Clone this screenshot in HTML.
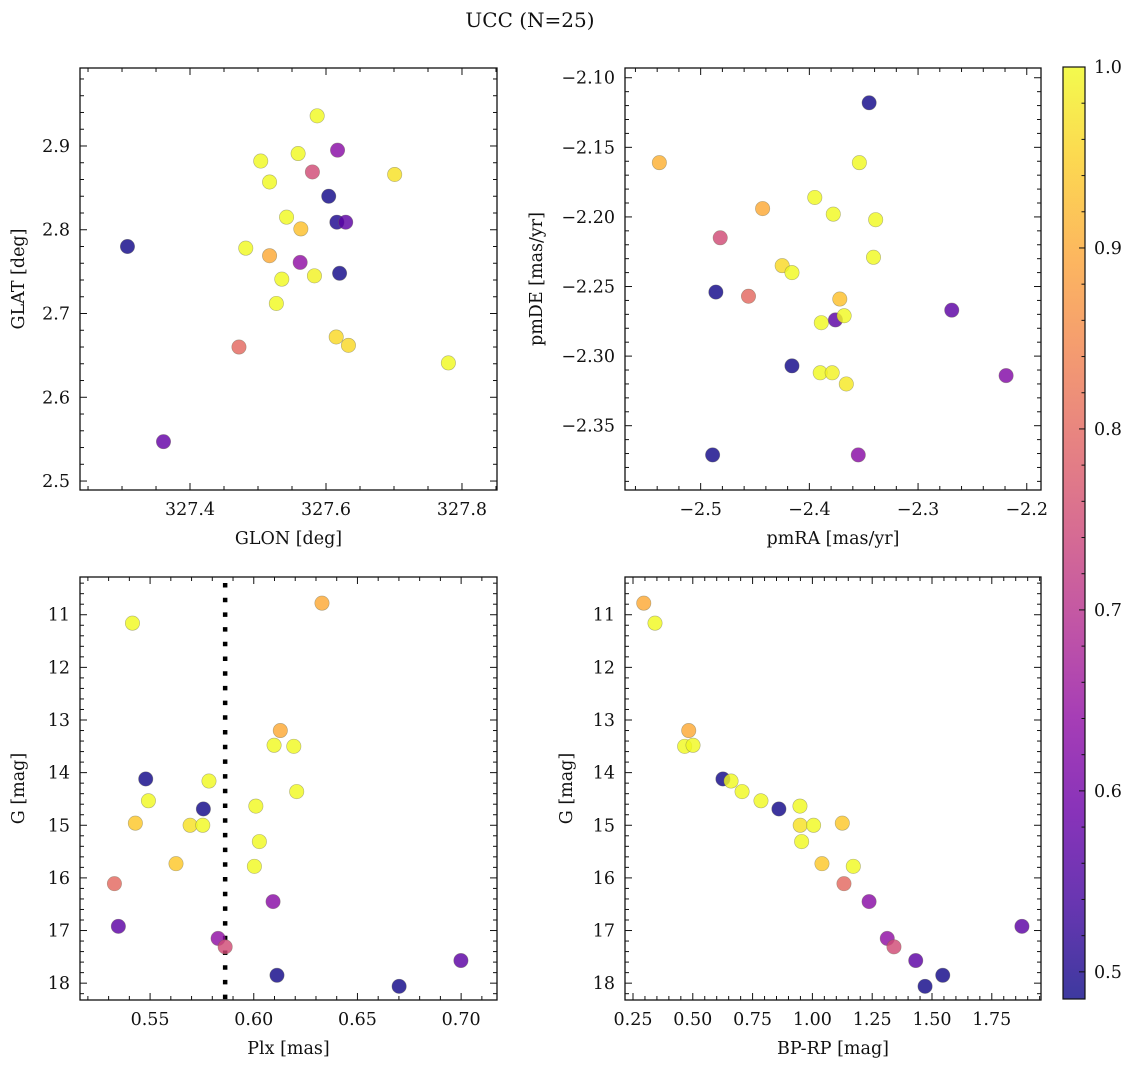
<!DOCTYPE html>
<html><head><meta charset="utf-8"><style>
html,body{margin:0;padding:0;background:#fff;}
svg text{font-family:"DejaVu Serif","Liberation Serif",serif;fill:#111;}
</style></head><body>
<svg id="fig" width="1136" height="1067" viewBox="0 0 1136 1067" xmlns="http://www.w3.org/2000/svg">
<defs>
<linearGradient id="cbgrad" x1="0" y1="1" x2="0" y2="0">
<stop offset="0" stop-color="#0d0887"/><stop offset="0.1" stop-color="#41049d"/><stop offset="0.2" stop-color="#6a00a8"/><stop offset="0.3" stop-color="#8f0da4"/><stop offset="0.4" stop-color="#b12a90"/><stop offset="0.5" stop-color="#cc4778"/><stop offset="0.6" stop-color="#e16462"/><stop offset="0.7" stop-color="#f2844b"/><stop offset="0.8" stop-color="#fca636"/><stop offset="0.9" stop-color="#fcce25"/><stop offset="1" stop-color="#f0f921"/>
</linearGradient>
</defs>
<text x="530" y="27" font-size="20" text-anchor="middle">UCC (N=25)</text>
</svg>
<script>
// ---- data: panel 1 (GLON/GLAT)
const glon = [327.308,327.361,327.472,327.482,327.504,327.517,327.517,327.527,327.535,327.542,327.559,327.563,327.562,327.580,327.583,327.587,327.604,327.616,327.617,327.615,327.620,327.629,327.633,327.701,327.780];
const glat = [2.780,2.547,2.660,2.778,2.882,2.857,2.769,2.712,2.741,2.815,2.891,2.801,2.761,2.869,2.745,2.936,2.840,2.809,2.895,2.672,2.748,2.809,2.662,2.866,2.641];
const memb1 = [0.49,0.58,0.80,1.0,1.0,1.0,0.90,1.0,1.0,1.0,1.0,0.93,0.64,0.75,0.99,1.0,0.49,0.50,0.63,0.96,0.49,0.57,0.96,0.97,1.0];
// ---- data: panel 2 (pmRA/pmDE)
const pmra = [-2.538,-2.489,-2.486,-2.482,-2.456,-2.443,-2.425,-2.416,-2.416,-2.395,-2.389,-2.390,-2.378,-2.379,-2.376,-2.372,-2.368,-2.366,-2.355,-2.354,-2.345,-2.341,-2.339,-2.269,-2.219];
const pmde = [-2.161,-2.371,-2.254,-2.215,-2.257,-2.194,-2.235,-2.240,-2.307,-2.186,-2.276,-2.312,-2.198,-2.312,-2.274,-2.259,-2.271,-2.320,-2.371,-2.161,-2.118,-2.229,-2.202,-2.267,-2.314];
const memb2 = [0.91,0.49,0.49,0.75,0.80,0.90,0.96,1.0,0.49,1.0,1.0,1.0,1.0,0.99,0.57,0.93,1.0,0.98,0.63,1.0,0.49,1.0,1.0,0.57,0.62];
// ---- data: panel 3 (Plx/G)
const plx = [0.5415,0.5328,0.5347,0.5479,0.5492,0.5429,0.5625,0.5693,0.5754,0.5757,0.5784,0.5828,0.5862,0.6010,0.6027,0.6003,0.6098,0.6128,0.6193,0.6207,0.6093,0.6112,0.6329,0.6701,0.6999];
const gmag3 = [11.16,16.11,16.92,14.12,14.535,14.96,15.73,15.00,15.00,14.69,14.16,17.15,17.31,14.636,15.31,15.78,13.48,13.20,13.50,14.36,16.45,17.85,10.78,18.06,17.57];
const memb3 = [1.0,0.80,0.57,0.49,1.0,0.94,0.94,0.97,1.0,0.49,1.0,0.64,0.75,1.0,1.0,1.0,1.0,0.90,1.0,1.0,0.63,0.49,0.90,0.49,0.57];
const plxCut = 0.5862;
// ---- data: panel 4 (BP-RP/G)
const bprp = [0.295,0.342,0.483,0.466,0.501,0.626,0.660,0.706,0.785,0.860,0.948,0.949,0.955,1.005,1.125,1.040,1.171,1.132,1.237,1.313,1.341,1.432,1.471,1.545,1.876];
const gmag4 = [10.78,11.16,13.20,13.50,13.48,14.12,14.16,14.36,14.535,14.69,14.636,15.00,15.31,15.00,14.96,15.73,15.78,16.11,16.45,17.15,17.31,17.57,18.06,17.85,16.92];
const memb4 = [0.90,1.0,0.90,1.0,1.0,0.49,1.0,1.0,1.0,0.49,1.0,0.97,1.0,1.0,0.94,0.94,1.0,0.80,0.63,0.64,0.75,0.57,0.49,0.49,0.57];
// ---- colorbar
const cbTicks = [0.5,0.6,0.7,0.8,0.9,1.0];
const cbMin = 0.485, cbMax = 1.0;

const NS = "http://www.w3.org/2000/svg";
const svg = document.getElementById('fig');
function mk(tag, attrs, parent){ const e=document.createElementNS(NS,tag); for(const k in attrs) e.setAttribute(k,attrs[k]); (parent||svg).appendChild(e); return e; }

const stops=[[13,8,135],[65,4,157],[106,0,168],[143,13,164],[177,42,144],[204,71,120],[225,100,98],[242,132,75],[252,166,54],[252,206,37],[240,249,33]];
function plasma(v){ let t=(v-cbMin)/(cbMax-cbMin); t=Math.max(0,Math.min(1,t)); const s=t*10, i=Math.min(9,Math.floor(s)), f=s-i; const a=stops[i],b=stops[i+1]; return 'rgb('+a.map((c,k)=>Math.round(c+(b[k]-c)*f)).join(',')+')'; }

function fmt(v,d){ const s=Math.abs(v).toFixed(d); return (v<-1e-9?'\u2212':'')+s; }

const FS=17.5;
function panel(p){
  const g=mk('g',{});
  
  
  const sx=v=>p.px0+(v-p.xmin)/(p.xmax-p.xmin)*(p.px1-p.px0);
  const sy=p.invert ? (v=>p.py0+(v-p.ymin)/(p.ymax-p.ymin)*(p.py1-p.py0)) : (v=>p.py1-(v-p.ymin)/(p.ymax-p.ymin)*(p.py1-p.py0));
  const tk=mk('g',{stroke:'#111','stroke-width':1},g);
  
  
  const eps=1e-9;
  for(let v=Math.ceil(p.xmin/p.xminor-eps)*p.xminor; v<=p.xmax+eps; v+=p.xminor){
    const x=sx(v); const isMaj=Math.abs(v/p.xmajor-Math.round(v/p.xmajor))<1e-4; const L=isMaj?7:4;
    mk('line',{x1:x,x2:x,y1:p.py1,y2:p.py1-L},tk); mk('line',{x1:x,x2:x,y1:p.py0,y2:p.py0+L},tk);
    if(isMaj){ const t=mk('text',{x:x,y:p.py1+25,'font-size':FS,'text-anchor':'middle',stroke:'none'},g); t.textContent=fmt(v,p.xdec);
        }
  }
  const lo=Math.min(p.ymin,p.ymax), hi=Math.max(p.ymin,p.ymax);
  for(let v=Math.ceil(lo/p.yminor-eps)*p.yminor; v<=hi+eps; v+=p.yminor){
    const y=sy(v); const isMaj=Math.abs(v/p.ymajor-Math.round(v/p.ymajor))<1e-4; const L=isMaj?7:4;
    mk('line',{x1:p.px0,x2:p.px0+L,y1:y,y2:y},tk); mk('line',{x1:p.px1,x2:p.px1-L,y1:y,y2:y},tk);
    if(isMaj){ const t=mk('text',{x:p.px0-10,y:y+6,'font-size':FS,'text-anchor':'end',stroke:'none'},g); t.textContent=fmt(v,p.ydec);
        }
  }
  if(p.vline!==undefined){ const vl=mk('line',{x1:sx(p.vline),x2:sx(p.vline),y1:p.py0+6,y2:p.py1,stroke:'#000','stroke-width':4.5,'stroke-dasharray':'4.5 10.2'},g);
      }
  const pts=mk('g',{},g);
   
  for(let i=0;i<p.xs.length;i++){
    const c=mk('circle',{cx:sx(p.xs[i]),cy:sy(p.ys[i]),r:7.2,fill:plasma(p.cs[i]),'fill-opacity':0.82,stroke:'#6a6a50','stroke-opacity':0.5,'stroke-width':0.6},pts);
     
  }
  const fr=mk('rect',{x:p.px0,y:p.py0,width:p.px1-p.px0,height:p.py1-p.py0,fill:'none',stroke:'#111','stroke-width':1.3},g);
   
  const xl=mk('text',{x:(p.px0+p.px1)/2,y:p.py1+54,'font-size':FS,'text-anchor':'middle'},g); xl.textContent=p.xlabel;
   
  const cy=(p.py0+p.py1)/2;
  const yl=mk('text',{x:p.ylx,y:cy,'font-size':FS,'text-anchor':'middle',transform:'rotate(-90 '+p.ylx+' '+cy+')'},g); yl.textContent=p.ylabel;
   
}

panel({name:'glon-glat-panel',px0:80,px1:497,py0:68,py1:490,xmin:327.2382,xmax:327.8515,ymin:2.4893,ymax:2.9931,
  xmajor:0.2,xminor:0.05,xdec:1,ymajor:0.1,yminor:0.02,ydec:1,xs:glon,ys:glat,cs:memb1,xlabel:'GLON [deg]',ylabel:'GLAT [deg]',ylx:24});
panel({name:'pm-panel',px0:625,px1:1041,py0:68,py1:490,xmin:-2.5696,xmax:-2.1869,ymin:-2.3962,ymax:-2.0930,
  xmajor:0.1,xminor:0.02,xdec:1,ymajor:0.05,yminor:0.01,ydec:2,xs:pmra,ys:pmde,cs:memb2,xlabel:'pmRA [mas/yr]',ylabel:'pmDE [mas/yr]',ylx:542});
panel({name:'plx-g-panel',px0:80,px1:497,py0:577,py1:1000,invert:true,xmin:0.5162,xmax:0.7173,ymin:10.283,ymax:18.32,
  xmajor:0.05,xminor:0.01,xdec:2,ymajor:1,yminor:0.2,ydec:0,xs:plx,ys:gmag3,cs:memb3,xlabel:'Plx [mas]',ylabel:'G [mag]',ylx:24,vline:plxCut});
panel({name:'cmd-panel',px0:625,px1:1041,py0:577,py1:1000,invert:true,xmin:0.2166,xmax:1.9557,ymin:10.283,ymax:18.32,
  xmajor:0.25,xminor:0.05,xdec:2,ymajor:1,yminor:0.2,ydec:0,xs:bprp,ys:gmag4,cs:memb4,xlabel:'BP-RP [mag]',ylabel:'G [mag]',ylx:572});

// colorbar
const cb=mk('g',{});
 
const cbx0=1063, cbx1=1085, cby0=67, cby1=999;
const cbsy=v=>cby1-(v-cbMin)/(cbMax-cbMin)*(cby1-cby0);
mk('rect',{x:cbx0,y:cby0,width:cbx1-cbx0,height:cby1-cby0,fill:'url(#cbgrad)','fill-opacity':0.8},cb);
for(let v=0.5; v<=cbMax+1e-9; v+=0.02){ const y=cbsy(v); const maj=Math.abs(v*10-Math.round(v*10))<1e-4;
  mk('line',{x1:cbx1,x2:cbx1-(maj?6:3.5),y1:y,y2:y,stroke:'#111','stroke-width':1},cb); }
for(let i=0;i<cbTicks.length;i++){ const t=mk('text',{x:1094,y:cbsy(cbTicks[i])+6,'font-size':FS},cb); t.textContent=cbTicks[i].toFixed(1);
    }
mk('rect',{x:cbx0,y:cby0,width:cbx1-cbx0,height:cby1-cby0,fill:'none',stroke:'#111','stroke-width':1.2},cb);
</script>
</body></html>
